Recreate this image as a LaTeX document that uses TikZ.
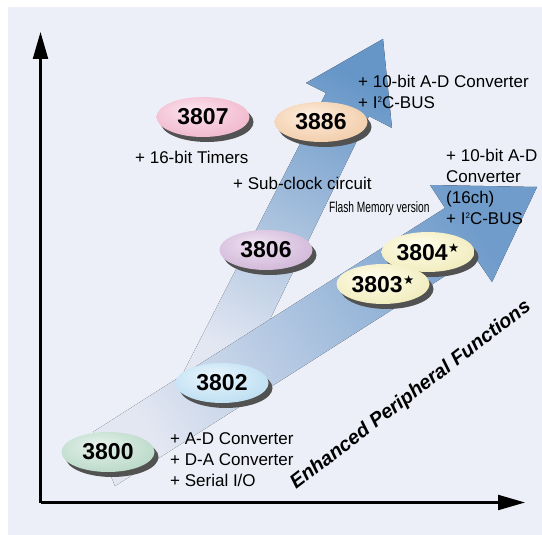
\documentclass[tikz,border=0pt]{standalone}
\usepackage{fontspec}
\setmainfont{Liberation Sans}
\newfontfamily\dejavu{DejaVu Sans}
\usepackage{graphicx}
\usetikzlibrary{shapes.geometric,shadows,arrows.meta}
\definecolor{bgcol}{HTML}{ECEFF7}
\definecolor{bandtop}{HTML}{6696C7}
\definecolor{bandlow}{HTML}{E3E7F2}
\definecolor{lowtop}{HTML}{709CCB}
\definecolor{i3800}{HTML}{E6F3EC}\definecolor{o3800}{HTML}{B2D4C2}
\definecolor{i3802}{HTML}{EAF6FD}\definecolor{o3802}{HTML}{B5DAF0}
\definecolor{i3803}{HTML}{FFFEEC}\definecolor{o3803}{HTML}{EEE8B4}
\definecolor{i3806}{HTML}{EEE2F2}\definecolor{o3806}{HTML}{CDB0D4}
\definecolor{i3807}{HTML}{FDE4EE}\definecolor{o3807}{HTML}{EDB0C6}
\definecolor{i3886}{HTML}{FDEEDD}\definecolor{o3886}{HTML}{F0C7A2}
\makeatletter
\pgfdeclareradialshading[tikz@radial@inner,tikz@radial@outer]{eggshade}{\pgfpoint{-6bp}{10bp}}{color(0bp)=(tikz@radial@inner); color(36bp)=(tikz@radial@outer); color(50bp)=(tikz@radial@outer!90!black)}
\makeatother
\newcommand{\mystar}{\hspace{0.5pt}\raisebox{7.5pt}{\dejavu\fontsize{12.5}{12.5}\selectfont ★}}
\newcommand{\sqtwo}{\raisebox{6pt}{\fontsize{8}{8}\selectfont 2}}
\tikzset{
  egg/.style n args={2}{ellipse, inner sep=0pt, minimum width=93pt, minimum height=40pt,
    inner color=#1, outer color=#2, shading=eggshade,
    drop shadow={shadow xshift=4pt, shadow yshift=-5pt, opacity=1, fill=black!68},
    font=\fontsize{23}{23}\selectfont\bfseries},
  lbl/.style={inner sep=0pt, font=\fontsize{17}{21}\selectfont},
  axisline/.style={line width=2.2pt, -{Triangle[length=27pt,width=15pt]}}
}
\begin{document}
\begin{tikzpicture}[x=1pt,y=-1pt]
\useasboundingbox (0,0) rectangle (542,535);
\fill[white] (0,0) rectangle (542,535);
\fill[bgcol] (8,7) rectangle (542,535);
% bands
\fill[top color=bandtop, bottom color=bandlow, shading angle=-27]
  (177,385) -- (326,93) -- (306,83) -- (383,39) -- (392,128) -- (369,116) -- (238,385) -- cycle;
\fill[top color=lowtop, bottom color=bandlow, shading angle=-57]
  (93,432) -- (445,208) -- (430,185) -- (537,187) -- (492,282) -- (475,257) -- (115,486) -- cycle;
% axes
\coordinate (O) at (40.5,502.5);
\coordinate (Ytip) at (40.5,32);
\coordinate (Xtip) at (525,502.5);
\draw[axisline] (O) -- (Ytip);
\draw[axisline] (O) -- (Xtip);
% eggs
\node[egg={i3800}{o3800}] (n3800) at (108,452) {3800};
\node[egg={i3802}{o3802}] (n3802) at (222,383) {3802};
\node[egg={i3803}{o3803}] (n3804) at (428,252) {3804\mystar};
\node[egg={i3803}{o3803}] (n3803) at (383,284) {3803\mystar};
\node[egg={i3806}{o3806}] (n3806) at (266,250) {3806};
\node[egg={i3807}{o3807}] (n3807) at (203,117) {3807};
\node[egg={i3886}{o3886}] (n3886) at (321,122) {3886};
% labels
\node[lbl, anchor=west] (t16) at (135,157) {+ 16-bit Timers};
\node[lbl, anchor=west] (tsub) at (233,183) {+ Sub-clock circuit};
\node[inner sep=0pt, anchor=west] (tflash) at (329,209) {\scalebox{0.68}[1]{\fontsize{15}{15}\selectfont Flash Memory version}};
\node[lbl, anchor=west, align=left] (ttop) at (358,92) {+ 10-bit A-D Converter\\+ I\sqtwo C-BUS};
\node[lbl, anchor=west, align=left] (tright) at (446,187) {+ 10-bit A-D\\Converter\\(16ch)\\+ I\sqtwo C-BUS};
\node[lbl, anchor=west, align=left] (tlow) at (170,460) {+ A-D Converter\\+ D-A Converter\\+ Serial I/O};
\node[inner sep=0pt, anchor=base west, rotate=37.5, font=\fontsize{19.8}{19.8}\selectfont\bfseries\itshape] (tenh) at (296,490) {Enhanced Peripheral Functions};
\end{tikzpicture}
\end{document}
